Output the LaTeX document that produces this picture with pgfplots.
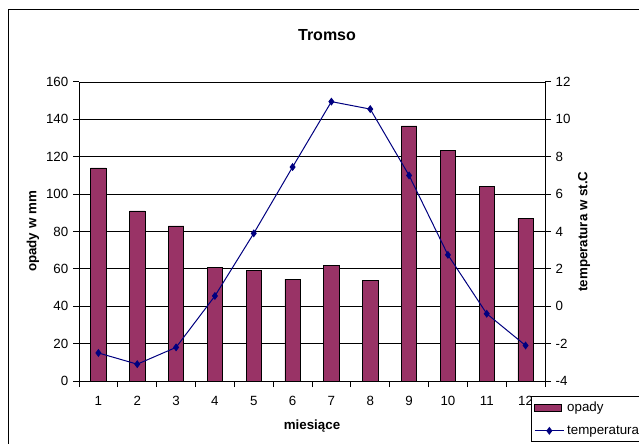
\documentclass[border=0pt]{standalone}
\usepackage{pgfplots}
\pgfplotsset{compat=1.18}
\usepackage{fontspec}
\setmainfont{Liberation Sans}
\definecolor{opadycol}{RGB}{153,51,102}
\definecolor{tempcol}{RGB}{0,0,128}

% monthly values, Tromso
\pgfplotstableread{
m opady
1 114
2 91
3 83
4 61
5 59
6 54.5
7 62
8 54
9 136.5
10 123.5
11 104
12 87
}\opady
\pgfplotstableread{
m temp
1 -2.5
2 -3.1
3 -2.2
4 0.55
5 3.9
6 7.45
7 10.95
8 10.55
9 7.0
10 2.75
11 -0.4
12 -2.1
}\temp

\pgfplotsset{
  excel/.style={
    at={(59.25pt,46.5pt)}, anchor=south west,
    scale only axis, width=349.5pt, height=224.25pt,
    xmin=0.5, xmax=12.5,
    tick align=outside, major tick length=4.5pt,
    axis line style={black, line width=0.75pt},
    tick style={black, line width=0.75pt},
    /pgf/number format/assume math mode=true,
    ticklabel style={font=\fontsize{10}{12}\selectfont},
    label style={font=\fontsize{10}{12}\selectfont\bfseries},
  },
}

\begin{document}
\begin{tikzpicture}[x=0.75pt,y=0.75pt]
\useasboundingbox (0,0) rectangle (639,443);
\clip (0,0) rectangle (639,443);
\fill[white] (0,0) rectangle (639,443);
\draw[black, line width=0.75pt] (8,433) rectangle (700,-50);
\node[font=\fontsize{12}{14}\selectfont\bfseries] at (327,408) {Tromso};

\begin{axis}[excel,
  ymin=0, ymax=160, ytick={0,20,...,160},
  axis y line*=left, axis x line*=bottom,
  ymajorgrids, grid style={black, line width=0.6pt},
  xtick={0.5,1.5,...,12.5}, xticklabels={},
  extra x ticks={1,...,12},
  extra x tick style={major tick length=0pt, grid=none,
    xticklabel style={yshift=-8pt}},
  ylabel={opady w mm}, xlabel={miesiące},
  y label style={at={(axis description cs:-0.0987,0.5)}, anchor=center},
  x label style={at={(axis description cs:0.5,-0.1505)}, anchor=center},
]
\addplot[ybar, bar width=11.6pt, fill=opadycol, draw=black, line width=0.5pt]
  table[x=m, y=opady] {\opady};
\end{axis}

\begin{axis}[excel,
  ymin=-4, ymax=12, ytick={-4,-2,...,12},
  axis y line*=right, axis x line=none,
  ylabel={temperatura w st.C},
  y label style={at={(axis description cs:1.0837,0.5)}, anchor=center},
  legend style={at={(axis description cs:0.9700,-0.0502)}, anchor=north west,
    draw=black, line width=0.75pt, fill=white,
    font=\fontsize{10}{12}\selectfont, row sep=5pt, inner sep=2pt,
    /tikz/every even column/.append style={column sep=2pt}},
  legend cell align=left,
]
\addlegendimage{legend image code/.code={
  \draw[fill=opadycol, draw=black, line width=0.5pt] (0pt,-2.6pt) rectangle (20pt,2.6pt);}}
\addlegendentry{opady}
\addplot[tempcol, line width=0.75pt, mark=diamond*, mark size=2.4pt,
  mark options={fill=tempcol, draw=tempcol},
  legend image code/.code={
    \draw[tempcol, line width=0.75pt, mark=diamond*, mark size=2.4pt,
      mark repeat=2, mark phase=2] plot coordinates {(0pt,0pt) (11pt,0pt) (22pt,0pt)};}]
  table[x=m, y=temp] {\temp};
\addlegendentry{temperatura}
\end{axis}
\end{tikzpicture}
\end{document}
